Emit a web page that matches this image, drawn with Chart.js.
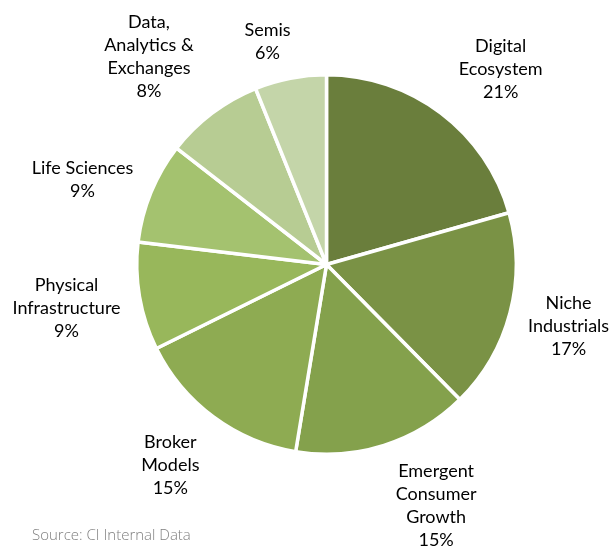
<!DOCTYPE html>
<html><head><meta charset="utf-8">
<script src="https://cdn.jsdelivr.net/npm/chart.js@4"></script>
<style>html,body{margin:0;padding:0;background:#fff}#wrap{width:614px;height:546px;position:relative}</style>
</head><body><div id="wrap"><canvas id="c" width="614" height="546"></canvas></div>
<script>
const categories = [["Digital","Ecosystem"],["Niche","Industrials"],["Emergent","Consumer","Growth"],["Broker","Models"],["Physical","Infrastructure"],["Life Sciences"],["Data,","Analytics &","Exchanges"],["Semis"]];
const shares = [20.6,17.0,15.0,15.1,9.2,8.6,8.4,6.1];
const colors = ["#6a7e3c","#7a9245","#84a14c","#8eab52","#98b75b","#a4c26f","#b7cc93","#c4d5a9"];
const sourceText = "Source: CI Internal Data";

// label placement style (gap beyond the pie edge, and a small nudge)
const FONT = "18px Lato";
const LH = 23;
const labelGap = [34,20,26,30,22,34,40,18];
const labelNudgeX = [14,0,32,-8,2,10,-12,-15];
const labelNudgeY = [11,-1,2,-4,2,9,3,4];

const labelPlugin = {
  id:'outLabels',
  afterDatasetsDraw(chart){
    const ctx = chart.ctx;
    const meta = chart.getDatasetMeta(0);
    ctx.save();
    ctx.font = FONT;
    ctx.fillStyle = "#000";
    ctx.textAlign = "center";
    ctx.textBaseline = "middle";
    meta.data.forEach((arc,i)=>{
      const p = arc.getProps(['x','y','startAngle','endAngle','outerRadius'],true);
      const mid = (p.startAngle+p.endAngle)/2;
      const dx = Math.cos(mid), dy = Math.sin(mid);
      const lines = categories[i].concat([Math.round(shares[i])+"%"]);
      const w = Math.max(...lines.map(l=>ctx.measureText(l).width));
      const h = lines.length*LH;
      const g = labelGap[i];
      const px = p.x + (p.outerRadius+g)*dx;
      const py = p.y + (p.outerRadius+g)*dy;
      let cx = px + dx*w/2;
      cx = Math.min(cx, chart.width - w/2 - 2);
      let cy = py + dy*h/2;
      cy = Math.min(cy, chart.height - h/2 + 4);
      cy = Math.max(cy, h/2 + 8);
      cx += labelNudgeX[i];
      cy += labelNudgeY[i];
      lines.forEach((l,k)=>{
        ctx.fillText(l, cx, cy - h/2 + LH/2 + k*LH);
      });
    });
    ctx.font = "300 15px 'Open Sans'";
    ctx.fillStyle = "#7f7f7f";
    ctx.textAlign = "left";
    ctx.fillText(sourceText, 32, 536);
    ctx.restore();
  }
};

new Chart(document.getElementById('c'),{
  type:'pie',
  data:{labels:categories.map(c=>c.join(' ')),datasets:[{data:shares,backgroundColor:colors,borderColor:"#ffffff",borderWidth:3.5}]},
  options:{
    responsive:false,animation:false,
    layout:{padding:{top:73,bottom:90,left:135,right:96}},
    plugins:{legend:{display:false},tooltip:{enabled:false}}
  },
  plugins:[labelPlugin]
});
</script></body></html>
